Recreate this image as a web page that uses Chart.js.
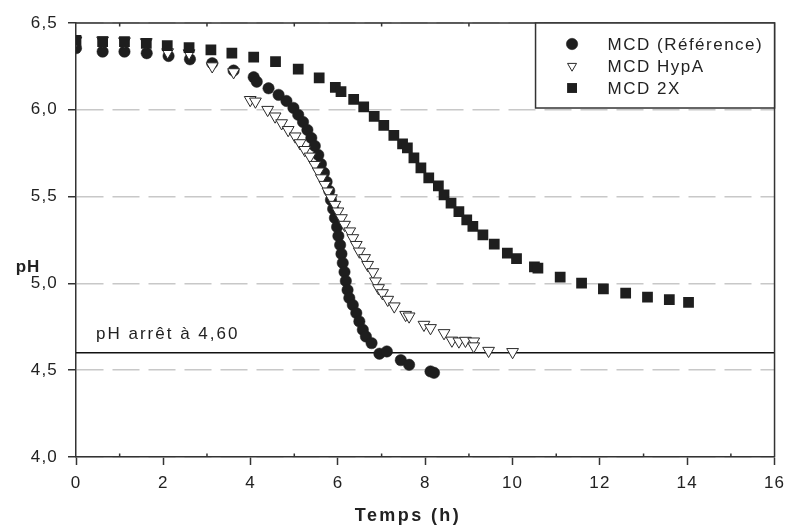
<!DOCTYPE html>
<html>
<head>
<meta charset="utf-8">
<title>pH en fonction du temps</title>
<script src="https://cdn.jsdelivr.net/npm/chart.js@4.4.1/dist/chart.umd.min.js"></script>
<style>
  html, body { margin: 0; padding: 0; background: #fff; }
  canvas { display: block; }
</style>
</head>
<body>
<canvas id="phChart" width="792" height="526"></canvas>
<script>
// ===== données =====
const refTime = [0, 0.61, 1.11, 1.62, 2.12, 2.61, 3.12, 3.61, 4.07, 4.14, 4.41, 4.64, 4.82, 4.98,
  5.09, 5.2, 5.3, 5.39, 5.47, 5.55, 5.61, 5.68, 5.74, 5.8, 5.84, 5.89, 5.93, 5.98, 6.01, 6.05,
  6.08, 6.11, 6.15, 6.18, 6.22, 6.26, 6.34, 6.42, 6.49, 6.57, 6.64, 6.77, 6.95, 7.12, 7.44, 7.63, 8.12, 8.2];
const refPH = [6.355, 6.335, 6.335, 6.326, 6.31, 6.291, 6.268, 6.226, 6.188, 6.162, 6.124, 6.086, 6.051, 6.011,
  5.971, 5.93, 5.884, 5.838, 5.792, 5.74, 5.688, 5.637, 5.585, 5.533, 5.481, 5.429, 5.377, 5.325, 5.273, 5.221,
  5.17, 5.118, 5.066, 5.014, 4.962, 4.916, 4.876, 4.829, 4.781, 4.733, 4.694, 4.656, 4.595, 4.608, 4.558, 4.531, 4.493, 4.485];

const hypaTime = [0, 0.61, 1.11, 1.61, 2.1, 2.59, 3.12, 3.61, 3.99, 4.11, 4.39, 4.56, 4.71, 4.86, 5.02,
  5.13, 5.24, 5.36, 5.47, 5.55, 5.62, 5.7, 5.77, 5.85, 5.93, 6.0, 6.08, 6.15, 6.27, 6.34, 6.42, 6.49,
  6.61, 6.68, 6.8, 6.86, 6.93, 7.02, 7.14, 7.29, 7.55, 7.63, 7.97, 8.12, 8.43, 8.61, 8.77, 8.92, 9.11, 9.11, 9.45, 10.0];
const hypaPH = [6.4, 6.4, 6.395, 6.39, 6.332, 6.326, 6.251, 6.217, 6.057, 6.048, 6.0, 5.962, 5.923, 5.884, 5.847,
  5.808, 5.769, 5.731, 5.683, 5.645, 5.606, 5.568, 5.53, 5.491, 5.453, 5.415, 5.376, 5.338, 5.3, 5.261, 5.222, 5.184,
  5.146, 5.107, 5.065, 5.012, 4.973, 4.944, 4.906, 4.868, 4.819, 4.81, 4.762, 4.743, 4.714, 4.671, 4.666, 4.67, 4.666, 4.638, 4.612, 4.605];

const x2Time = [0, 0.61, 1.11, 1.61, 2.09, 2.59, 3.09, 3.57, 4.07, 4.57, 5.09, 5.57, 5.94, 6.07, 6.36, 6.59,
  6.83, 7.05, 7.28, 7.48, 7.59, 7.74, 7.9, 8.08, 8.3, 8.43, 8.59, 8.77, 8.95, 9.09, 9.32, 9.58, 9.88, 10.09,
  10.5, 10.58, 11.09, 11.58, 12.08, 12.59, 13.09, 13.59, 14.03];
const x2PH = [6.4, 6.393, 6.393, 6.383, 6.37, 6.358, 6.345, 6.326, 6.303, 6.278, 6.235, 6.184, 6.129, 6.105, 6.06, 6.017,
  5.962, 5.91, 5.853, 5.804, 5.781, 5.723, 5.666, 5.608, 5.562, 5.51, 5.462, 5.414, 5.366, 5.328, 5.28, 5.226, 5.175, 5.142,
  5.095, 5.088, 5.036, 5.002, 4.969, 4.944, 4.921, 4.906, 4.89];

const seriesNames = ['MCD (Référence)', 'MCD HypA', 'MCD 2X'];
const xTicks = [0, 2, 4, 6, 8, 10, 12, 14, 16];
const xMinorTicks = [1, 3, 5, 7, 9, 11, 13, 15];
const yTicks = [4.0, 4.5, 5.0, 5.5, 6.0, 6.5];
const stopPH = 4.6;
const stopLabel = 'pH arrêt à 4,60';
const xTitle = 'Temps (h)';
const yTitle = 'pH';

const FONT = '"Liberation Sans", Arial, Helvetica, sans-serif';
const INK = '#1e1e1e';
const toPts = (t, p) => t.map((x, i) => ({ x: x, y: p[i] }));
const fmt = v => v.toFixed(1).replace('.', ',');

// ===== petit dessin de marqueur pour la légende =====
function marker(ctx, ds, x, y) {
  const r = ds.legendRadius || ds.pointRadius;
  ctx.save();
  ctx.fillStyle = ds.backgroundColor;
  ctx.strokeStyle = ds.borderColor;
  ctx.lineWidth = ds.borderWidth;
  ctx.beginPath();
  if (ds.pointStyle === 'circle') {
    ctx.arc(x, y, r, 0, Math.PI * 2);
  } else if (ds.pointStyle === 'rect') {
    const s = r * Math.SQRT1_2;
    ctx.rect(x - s, y - s, 2 * s, 2 * s);
  } else {
    // triangle pointe en bas
    ctx.moveTo(x, y + r);
    ctx.lineTo(x - r * 0.866, y - r / 2);
    ctx.lineTo(x + r * 0.866, y - r / 2);
    ctx.closePath();
  }
  ctx.fill();
  if (ds.borderWidth > 0) ctx.stroke();
  ctx.restore();
}

// ===== cadre, graduations mineures, titres, légende =====
const decor = {
  id: 'decor',
  beforeDraw(chart) {
    chart.ctx.letterSpacing = '1.2px';
  },
  afterDraw(chart) {
    const { ctx, chartArea: a } = chart;
    const xs = chart.scales.x, ys = chart.scales.y;
    ctx.save();

    // haut et droite du cadre
    ctx.strokeStyle = '#333';
    ctx.lineWidth = 1.5;
    ctx.beginPath();
    ctx.moveTo(a.left, a.top);
    ctx.lineTo(a.right, a.top);
    ctx.lineTo(a.right, a.bottom);
    ctx.stroke();

    // graduations mineures (vers l'intérieur)
    ctx.beginPath();
    xMinorTicks.forEach(v => {
      const px = xs.getPixelForValue(v);
      ctx.moveTo(px, a.bottom);
      ctx.lineTo(px, a.bottom - 3.5);
      ctx.moveTo(px, a.top);
      ctx.lineTo(px, a.top + 3.5);
    });
    ctx.stroke();

    // texte de la ligne d'arrêt
    ctx.fillStyle = '#222';
    ctx.font = '17px ' + FONT;
    ctx.letterSpacing = '2px';
    ctx.textAlign = 'left';
    ctx.textBaseline = 'alphabetic';
    ctx.fillText(stopLabel, xs.getPixelForValue(0) + 20, ys.getPixelForValue(stopPH) - 14);

    // titres des axes
    ctx.font = 'bold 18px ' + FONT;
    ctx.letterSpacing = '2.4px';
    ctx.textAlign = 'center';
    ctx.textBaseline = 'middle';
    ctx.fillText(xTitle, 408, 516);
    ctx.font = 'bold 17px ' + FONT;
    ctx.letterSpacing = '1px';
    ctx.fillText(yTitle, 28, 267);

    // légende
    const w = 239, h = 85;
    const x0 = a.right - w, y0 = a.top;
    ctx.fillStyle = '#fff';
    ctx.fillRect(x0, y0, w, h);
    ctx.strokeStyle = '#333';
    ctx.lineWidth = 1.5;
    ctx.strokeRect(x0, y0, w, h);
    ctx.font = '17px ' + FONT;
    ctx.letterSpacing = '1.5px';
    ctx.textAlign = 'left';
    ctx.textBaseline = 'middle';
    ctx.fillStyle = '#222';
    chart.data.datasets.filter(d => d.label).forEach((ds, i) => {
      const ly = y0 + 21 + i * 22;
      marker(ctx, ds, x0 + 36.5, ly);
      ctx.fillText(ds.label, x0 + 72, ly + 1);
    });
    ctx.restore();
  }
};

const ctx = document.getElementById('phChart').getContext('2d');
const phChart = new Chart(ctx, {
  type: 'scatter',
  data: {
    datasets: [
      {
        label: seriesNames[0],
        data: toPts(refTime, refPH),
        pointStyle: 'circle',
        pointRadius: 5.7,
        backgroundColor: INK,
        borderColor: INK,
        borderWidth: 0.5,
        order: 3
      },
      {
        label: seriesNames[1],
        data: toPts(hypaTime, hypaPH),
        pointStyle: 'triangle',
        rotation: 180,
        pointRadius: 6.8,
        legendRadius: 5.2,
        backgroundColor: '#ffffff',
        borderColor: '#2a2a2a',
        borderWidth: 1,
        order: 2
      },
      {
        label: seriesNames[2],
        data: toPts(x2Time, x2PH),
        pointStyle: 'rect',
        pointRadius: 7.6,
        legendRadius: 7,
        backgroundColor: INK,
        borderColor: INK,
        borderWidth: 0,
        order: 1
      },
      {
        label: '',
        type: 'line',
        data: [{ x: xTicks[0], y: stopPH }, { x: xTicks[xTicks.length - 1], y: stopPH }],
        showLine: true,
        borderColor: '#111',
        borderWidth: 1.5,
        pointRadius: 0,
        fill: false,
        order: 4
      }
    ]
  },
  options: {
    responsive: false,
    animation: false,
    devicePixelRatio: 1,
    layout: { padding: { top: 23, right: 12, left: 0, bottom: 0 } },
    plugins: {
      legend: { display: false },
      tooltip: { enabled: false }
    },
    scales: {
      x: {
        type: 'linear',
        min: 0,
        max: 16,
        afterBuildTicks: s => { s.ticks = xTicks.map(v => ({ value: v })); },
        afterFit: s => { s.height = 69; },
        ticks: {
          autoSkip: false,
          maxRotation: 0,
          padding: 8,
          color: '#222',
          font: { family: FONT, size: 17 },
          callback: v => String(v)
        },
        grid: {
          drawOnChartArea: false,
          tickLength: 8,
          tickWidth: 1.5,
          tickColor: '#333',
          tickBorderDash: []
        },
        border: { display: true, color: '#333', width: 1.5 }
      },
      y: {
        type: 'linear',
        min: 4,
        max: 6.5,
        afterBuildTicks: s => { s.ticks = yTicks.map(v => ({ value: v })); },
        afterFit: s => { s.width = 76; },
        ticks: {
          padding: 10,
          color: '#222',
          font: { family: FONT, size: 17 },
          callback: v => fmt(v)
        },
        grid: {
          display: true,
          drawOnChartArea: true,
          color: '#c8c8c8',
          lineWidth: 1.5,
          tickLength: 8,
          tickWidth: 1.5,
          tickColor: '#333',
          tickBorderDash: []
        },
        border: { display: true, color: '#333', width: 1.5, dash: [27, 9] }
      }
    }
  },
  plugins: [decor]
});
</script>
</body>
</html>
